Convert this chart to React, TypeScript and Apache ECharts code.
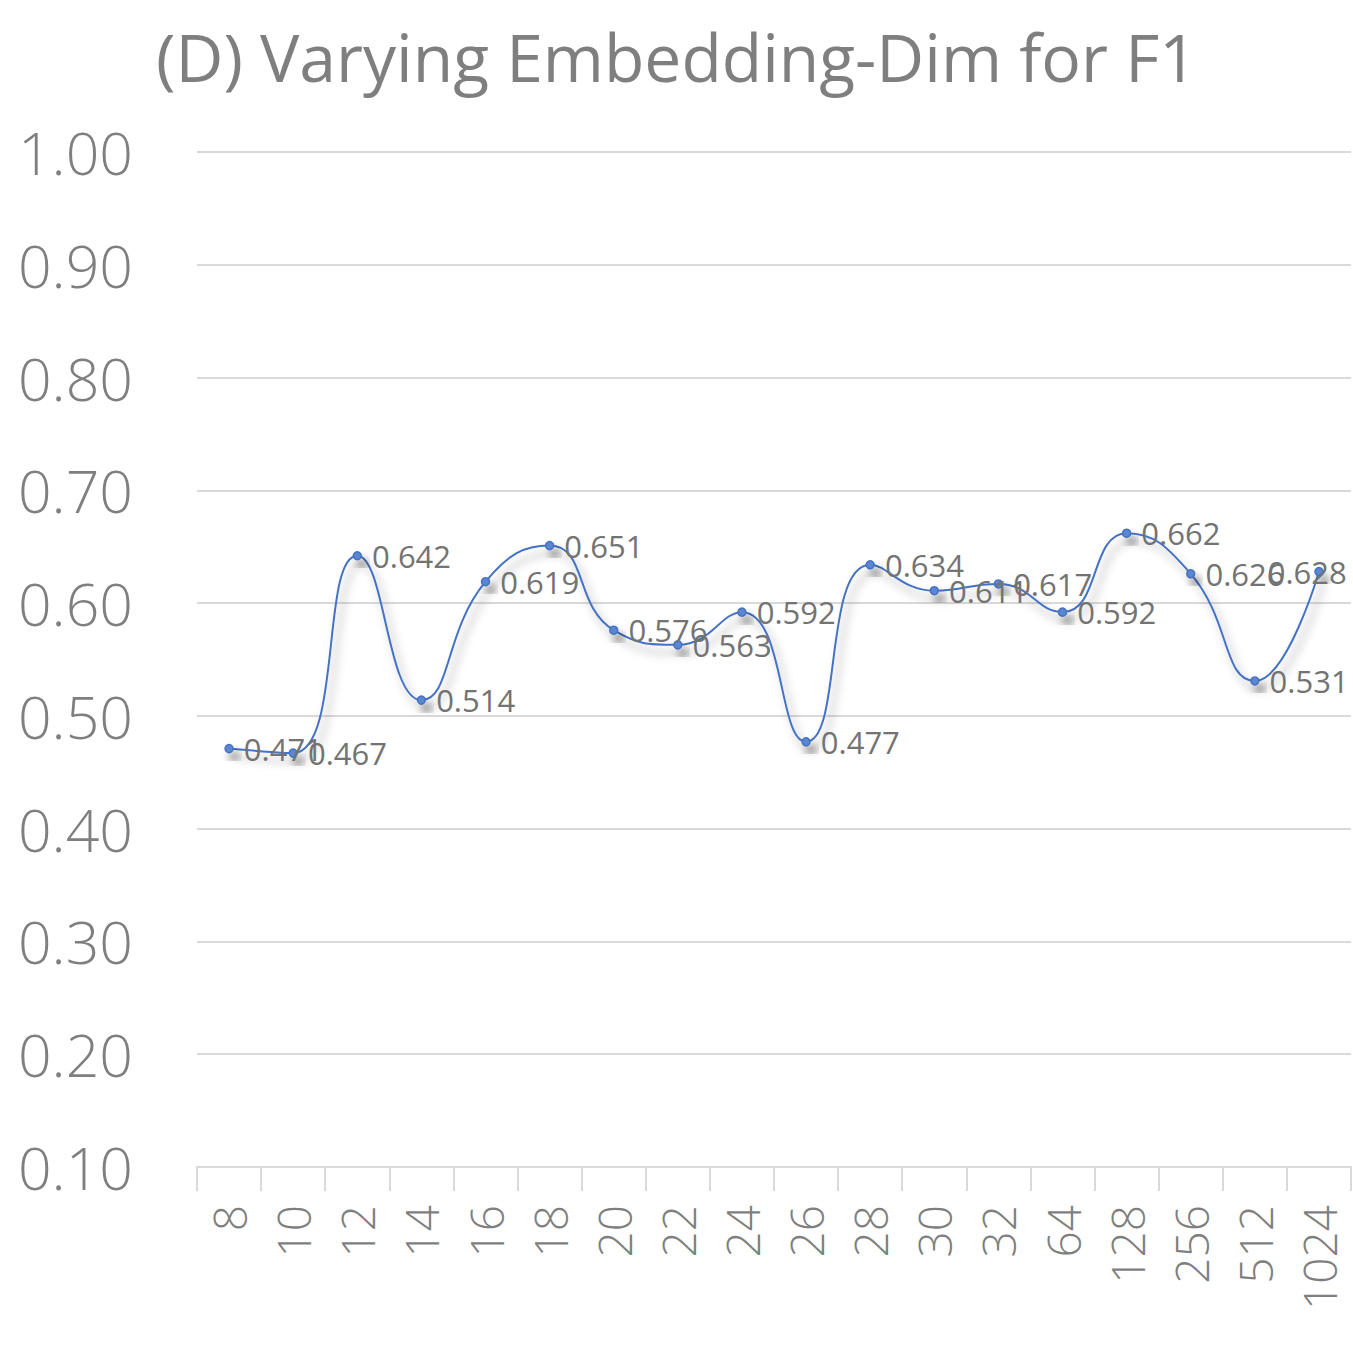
import React, { useEffect, useRef } from "react";
import * as echarts from "echarts";

const TITLE = "(D) Varying Embedding-Dim for F1";
const categories = ["8", "10", "12", "14", "16", "18", "20", "22", "24", "26", "28", "30", "32", "64", "128", "256", "512", "1024"];
const f1Values = [0.471, 0.467, 0.642, 0.514, 0.619, 0.651, 0.576, 0.563, 0.592, 0.477, 0.634, 0.611, 0.617, 0.592, 0.662, 0.626, 0.531, 0.628];
const yMin = 0.1;
const yMax = 1.0;
const yStep = 0.1;

export default function App() {
  const ref = useRef<HTMLDivElement>(null);
  useEffect(() => {
    if (!ref.current) return;
    const chart = echarts.init(ref.current, null, { renderer: "svg" });
    const lastIdx = f1Values.length - 1;
    const data = f1Values.map((v, i) =>
      i === lastIdx ? { value: v, label: { offset: [-66, 0] } } : { value: v }
    );
    chart.setOption({
      animation: false,
      backgroundColor: "#ffffff",
      title: {
        text: TITLE,
        left: "center",
        top: 18,
        textStyle: {
          fontFamily: "'Open Sans', sans-serif",
          fontSize: 66,
          fontWeight: "normal",
          color: "#7f7f7f",
        },
      },
      grid: { left: 197, right: 2, top: 152, bottom: 183, containLabel: false },
      xAxis: {
        type: "category",
        data: categories,
        boundaryGap: true,
        axisLine: { lineStyle: { color: "#d9d9d9", width: 2 } },
        axisTick: { show: true, length: 24, lineStyle: { color: "#d9d9d9", width: 2 } },
        axisLabel: {
          rotate: 90,
          margin: 38,
          interval: 0,
          fontFamily: "'Open Sans', sans-serif",
          fontWeight: 300,
          fontSize: 46,
          color: "#7f7f7f",
        },
        splitLine: { show: false },
      },
      yAxis: {
        type: "value",
        min: yMin,
        max: yMax,
        interval: yStep,
        axisLine: { show: false },
        axisTick: { show: false },
        splitLine: { lineStyle: { color: "#d9d9d9", width: 2 } },
        axisLabel: {
          margin: 64,
          fontFamily: "'Open Sans', sans-serif",
          fontWeight: 300,
          fontSize: 59,
          color: "#7f7f7f",
          formatter: (v: number) => v.toFixed(2),
        },
      },
      series: [
        {
          type: "line",
          data,
          smooth: 0.5,
          symbol: "circle",
          symbolSize: 8,
          lineStyle: {
            color: "#4472C4",
            width: 2,
            shadowColor: "rgba(0,0,0,0.4)",
            shadowBlur: 10,
            shadowOffsetX: 5,
            shadowOffsetY: 8,
          },
          itemStyle: {
            color: "#5b86d0",
            borderColor: "#4472C4",
            borderWidth: 1.5,
            shadowColor: "rgba(0,0,0,0.5)",
            shadowBlur: 8,
            shadowOffsetX: 5,
            shadowOffsetY: 8,
          },
          label: {
            show: true,
            position: "right",
            distance: 10,
            fontFamily: "'Open Sans', sans-serif",
            fontSize: 31,
            color: "#737373",
            formatter: (p: any) => p.value.toFixed(3),
          },
        },
      ],
    });
    return () => chart.dispose();
  }, []);
  return (
    <div
      ref={ref}
      style={{ position: "absolute", left: 0, top: 0, width: 1353, height: 1350 }}
    />
  );
}
